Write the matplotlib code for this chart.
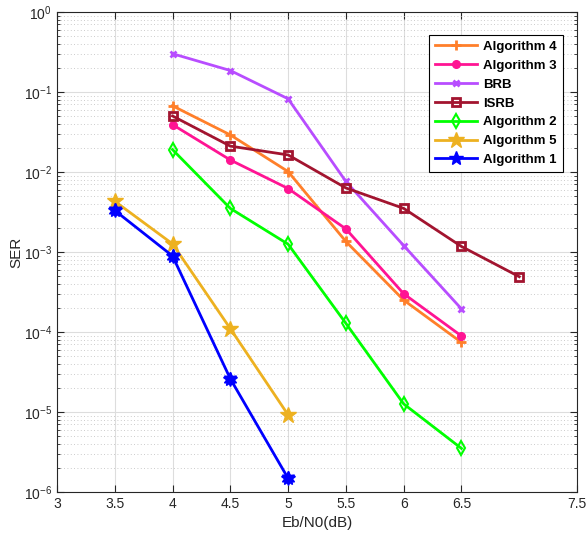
import numpy as np, matplotlib
matplotlib.use("Agg"); import matplotlib.pyplot as plt
from matplotlib.ticker import LogLocator, NullFormatter

plt.rcParams['font.family'] = ['Liberation Sans', 'DejaVu Sans']
plt.rcParams['mathtext.default'] = 'regular'

snr4 = [4, 4.5, 5, 5.5, 6, 6.5]
alg4 = [0.067, 0.029, 0.0101, 1.35e-3, 2.5e-4, 7.4e-5]
alg3 = [0.039, 0.0141, 6.2e-3, 1.94e-3, 3.0e-4, 8.9e-5]
brb = [0.30, 0.185, 0.082, 7.6e-3, 1.2e-3, 1.94e-4]
snr_isrb = [4, 4.5, 5, 5.5, 6, 6.5, 7]
isrb = [0.05, 0.021, 0.0163, 6.3e-3, 3.5e-3, 1.17e-3, 4.9e-4]
alg2 = [0.019, 3.5e-3, 1.25e-3, 1.28e-4, 1.26e-5, 3.5e-6]
snr15 = [3.5, 4, 4.5, 5]
alg5 = [4.3e-3, 1.26e-3, 1.1e-4, 9.2e-6]
alg1 = [3.3e-3, 8.9e-4, 2.6e-5, 1.48e-6]
xticks = [3, 3.5, 4, 4.5, 5, 5.5, 6, 6.5, 7.5]

fig = plt.figure(figsize=(5.87, 5.4), dpi=100)
ax = fig.add_axes([0.097, 0.089, 0.886, 0.889])
lw = 2
ax.semilogy(snr4, alg4, color='#FF7F2A', marker='+', ms=7, mew=2, lw=lw, label='Algorithm 4')
ax.semilogy(snr4, alg3, color='#FF1493', marker='o', ms=5.5, lw=lw, label='Algorithm 3')
ax.semilogy(snr4, brb, color='#B84DFF', marker='x', ms=5, mew=2, lw=lw, label='BRB')
ax.semilogy(snr_isrb, isrb, color='#A2142F', marker='s', ms=5.5, mfc='none', mew=2, lw=lw, label='ISRB')
ax.semilogy(snr4, alg2, color='#00FF00', marker='d', ms=7, mfc='none', mew=1.5, lw=lw, label='Algorithm 2')
ax.semilogy(snr15, alg5, color='#EDB120', marker='*', ms=12, lw=lw, label='Algorithm 5')
ax.semilogy(snr15, alg1, color='#0000FF', marker='*', ms=10, lw=lw, label='Algorithm 1')
ax.semilogy(snr15, alg1, color='#0000FF', marker=(6, 1, 0), ms=10, lw=0)

ax.set_xlim(3, 7.5); ax.set_ylim(1e-6, 1)
ax.set_xticks(xticks)
ax.set_xticklabels([f'{v:g}' for v in xticks])
ax.yaxis.set_major_locator(LogLocator(base=10, numticks=10))
ax.yaxis.set_minor_locator(LogLocator(base=10, subs=np.arange(2, 10), numticks=20))
ax.yaxis.set_minor_formatter(NullFormatter())
ax.tick_params(which='both', direction='in', top=True, right=True, labelsize=10, colors='#262626')
ax.tick_params(which='major', length=5)
ax.tick_params(which='minor', length=2.5)
ax.grid(which='major', color='#DDDDDD', lw=0.8, ls='-')
ax.grid(which='minor', axis='y', color='#BBBBBB', lw=0.6, ls=(0, (1, 3)))
for s in ax.spines.values():
    s.set_color('#262626'); s.set_linewidth(0.8)
ax.set_xlabel('Eb/N0(dB)', fontsize=11, color='#262626')
ax.set_ylabel('SER', fontsize=11, color='#262626', labelpad=0)
leg = ax.legend(loc='upper right', bbox_to_anchor=(0.973, 0.952), borderaxespad=0,
                prop={'weight': 'bold', 'size': 9.5},
                fancybox=False, edgecolor='black', framealpha=1, handlelength=3.2,
                borderpad=0.45, labelspacing=0.5, handletextpad=0.5)
leg.get_frame().set_linewidth(0.8)
fig.savefig('out.png', dpi=100)
